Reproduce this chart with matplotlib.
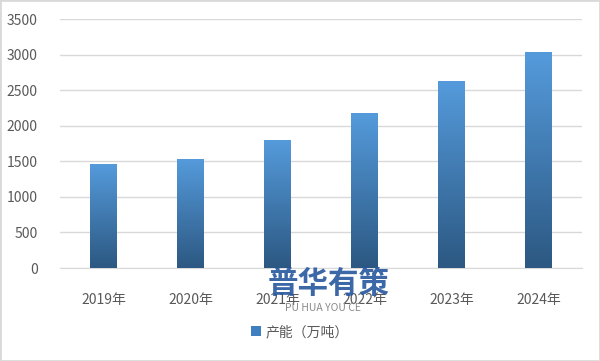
import numpy as np
import matplotlib.pyplot as plt
from matplotlib.colors import LinearSegmentedColormap
from matplotlib.patches import Rectangle

plt.rcParams['font.family'] = ['Noto Sans CJK SC', 'DejaVu Sans']

years = ['2019年', '2020年', '2021年', '2022年', '2023年', '2024年']
capacity = [1465, 1535, 1805, 2185, 2635, 3035]
series_name = '产能（万吨）'

top_col = '#559bdc'
bot_col = '#2c5882'
cmap = LinearSegmentedColormap.from_list('bar_grad', [bot_col, top_col])

fig = plt.figure(figsize=(6, 3.61), dpi=100)
ax = fig.add_axes([0.1, 0.2576, 0.87, 0.6894])

x = np.arange(len(years))
width = 0.31
bars = ax.bar(x, capacity, width=width, color='none', zorder=3)

grad = np.linspace(0, 1, 256).reshape(-1, 1)
for b in bars:
    x0, h = b.get_x(), b.get_height()
    im = ax.imshow(grad, cmap=cmap, aspect='auto', origin='lower',
                   extent=[x0, x0 + width, 0, h], zorder=3)
    im.set_clip_path(b)

ax.set_xlim(-0.5, len(years) - 0.5)
ax.set_ylim(0, 3500)
ax.set_yticks(range(0, 3501, 500))
ax.set_xticks(x)
ax.set_xticklabels(years)
ax.grid(axis='y', color='#d9d9d9', linewidth=1, zorder=0)
for s in ['left', 'right', 'top']:
    ax.spines[s].set_visible(False)
ax.spines['bottom'].set_color('#d9d9d9')
ax.tick_params(axis='both', length=0, colors='#595959', labelsize=10)
ax.tick_params(axis='x', pad=18)
ax.tick_params(axis='y', pad=16)

# legend
handle = Rectangle((0, 0), 1, 1, facecolor='#3f7fbf')
fig.legend([handle], [series_name], loc='center', bbox_to_anchor=(0.5, 0.08),
           frameon=False, fontsize=10, handlelength=0.7, handleheight=0.7,
           handletextpad=0.3, labelcolor='#595959')

# watermark (sits over the axis labels, as in the source image)
fig.text(0.548, 0.213, '普华有策', ha='center', va='center', fontsize=22,
         fontweight='bold', color='#27579f', alpha=0.9, zorder=5)
fig.text(0.538, 0.148, 'PU HUA YOU CE', ha='center', va='center', fontsize=7.5,
         color='#8a8a8a', zorder=5)

fig.patches.append(Rectangle((0, 0), 1, 1, transform=fig.transFigure, fill=False,
                             edgecolor='#d9d9d9', linewidth=2))

fig.savefig('out.png', dpi=100)
